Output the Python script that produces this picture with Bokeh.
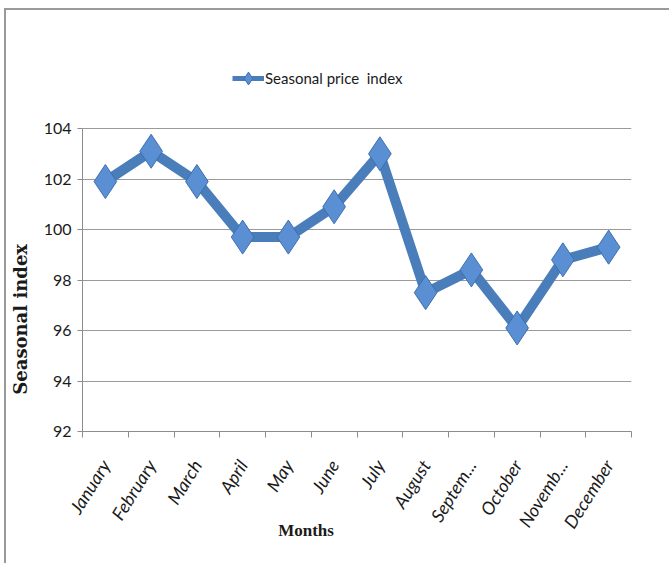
import math
from bokeh.plotting import figure
from bokeh.models import (ColumnDataSource, FixedTicker, Legend, LegendItem, Range1d)
from bokeh.embed import file_html
from bokeh.resources import INLINE

months = ["January", "February", "March", "April", "May", "June", "July",
          "August", "September", "October", "November", "December"]
tick_labels = ["January", "February", "March", "April", "May", "June", "July",
               "August", "Septem...", "October", "Novemb...", "December"]
seasonal_index = [101.9, 103.1, 101.9, 99.7, 99.7, 100.9, 103.0,
                  97.5, 98.4, 96.1, 98.8, 99.3]
y_ticks = [92, 94, 96, 98, 100, 102, 104]

x_pos = list(range(1, len(months) + 1))
src = ColumnDataSource(dict(x=x_pos, y=seasonal_index, month=months))
# legend-only source: a single missing point, so nothing is drawn in the plot
legend_src = ColumnDataSource(dict(x=[float("nan")], y=[float("nan")]))

W, H = 665, 555
# frame extends above the 104 gridline to host the legend; axis is bounded to 92..104
p = figure(width=W, height=H, output_backend="svg", toolbar_location=None,
           x_range=Range1d(0.5, 12.5), y_range=Range1d(92, 107.09),
           min_border_left=70, min_border_right=40, min_border_top=40,
           min_border_bottom=134, margin=(8, 0, 0, 4))
p.styles = {"border-top": "2px solid #9a9a9a", "border-left": "2px solid #9a9a9a"}
p.outline_line_color = None
p.background_fill_color = "white"
p.border_fill_color = "white"

tick_font = "Lato"

# x axis
xa = p.xaxis[0]
xa.ticker = FixedTicker(ticks=x_pos, minor_ticks=[i + 0.5 for i in range(0, 13)])
xa.major_label_overrides = {i: t for i, t in zip(x_pos, tick_labels)}
xa.major_tick_line_color = None
xa.minor_tick_out = 6
xa.minor_tick_in = 0
xa.minor_tick_line_color = "#8c8c8c"
xa.axis_line_color = "#8c8c8c"
xa.major_label_orientation = math.radians(58)
xa.major_label_text_font = tick_font
xa.major_label_text_font_style = "italic"
xa.major_label_text_font_size = "18px"
xa.major_label_text_color = "#1a1a1a"
xa.major_label_standoff = 24
xa.axis_label = "Months" + "\u00a0" * 24
xa.axis_label_text_font = "Liberation Serif"
xa.axis_label_text_font_style = "bold"
xa.axis_label_text_font_size = "17px"
xa.axis_label_text_color = "#1a1a1a"
xa.axis_label_standoff = -20

# y axis
ya = p.yaxis[0]
ya.ticker = FixedTicker(ticks=y_ticks)
ya.bounds = (92, 104)
ya.minor_tick_line_color = None
ya.major_tick_out = 5
ya.major_tick_in = 0
ya.major_tick_line_color = "#8c8c8c"
ya.axis_line_color = "#8c8c8c"
ya.major_label_text_font = tick_font
ya.major_label_text_font_size = "16px"
ya.major_label_text_color = "#1a1a1a"
ya.major_label_standoff = 6
ya.axis_label = "Seasonal\u00a0index" + "\u00a0" * 25
ya.axis_label_text_font = "DejaVu Serif"
ya.axis_label_text_font_style = "bold"
ya.axis_label_text_font_size = "18px"
ya.axis_label_text_color = "#1a1a1a"
ya.axis_label_standoff = 10

p.xgrid.grid_line_color = None
p.ygrid.grid_line_color = "#9a9a9a"
p.ygrid.grid_line_width = 1

LINE_C = "#4a7ebb"
FILL_C = "#5b8fd3"
EDGE_C = "#3d6fae"

line_r = p.line("x", "y", source=src, line_color=LINE_C, line_width=10,
                line_join="miter")
mark_r = p.scatter("x", "y", source=src, marker="diamond", size=34,
                   fill_color=FILL_C, line_color=EDGE_C, line_width=1)

# legend-only renderers so the legend glyph has a thinner line
leg_line = p.line("x", "y", source=legend_src, line_color=LINE_C, line_width=5)
leg_mark = p.scatter("x", "y", source=legend_src, marker="diamond",
                     fill_color=FILL_C, line_color=EDGE_C, line_width=1)

# location = bottom-left corner of the legend, relative to the frame
legend = Legend(items=[LegendItem(label="Seasonal price  index",
                                  renderers=[leg_line, leg_mark])],
                location=(150, 335), orientation="horizontal",
                border_line_color=None, background_fill_alpha=0,
                label_text_font=tick_font, label_text_font_size="15px",
                label_text_color="#1a1a1a", glyph_width=32, glyph_height=36,
                label_standoff=1, padding=0, margin=0)
p.add_layout(legend, "center")

open("out.html", "w").write(file_html(p, INLINE))
